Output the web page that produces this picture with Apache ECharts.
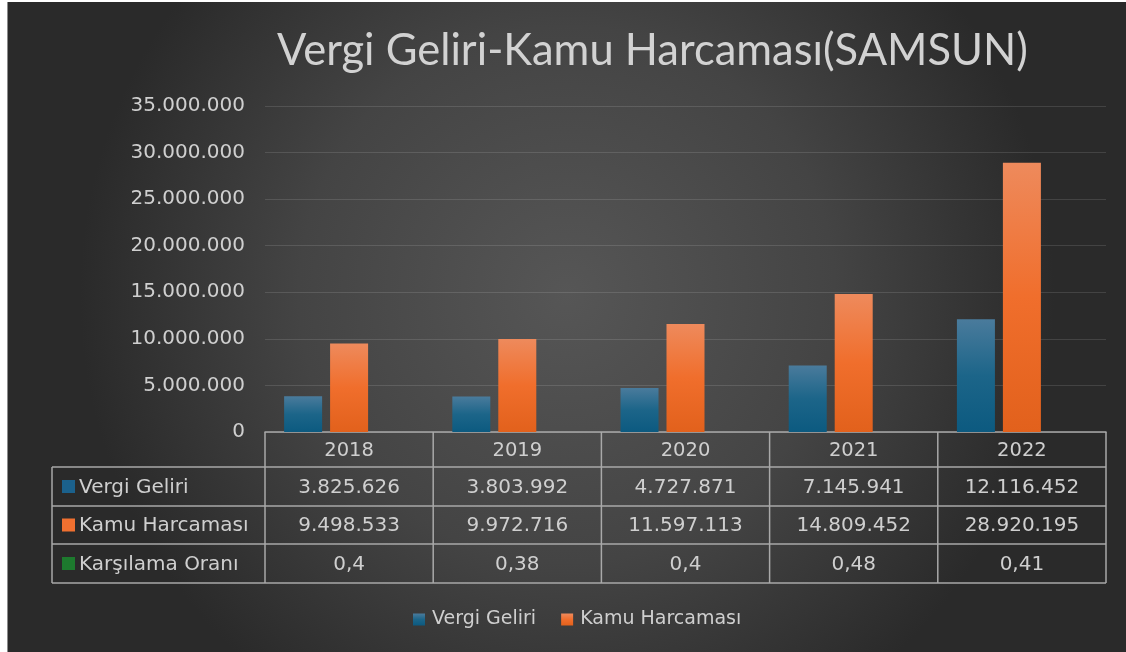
<!DOCTYPE html>
<html>
<head>
<meta charset="utf-8">
<script src="https://cdn.jsdelivr.net/npm/echarts@6/dist/echarts.min.js"></script>
<style>
  html, body { margin: 0; padding: 0; background: #ffffff; }
  #chart { position: absolute; left: 7px; top: 2px; width: 1119px; height: 650px; border-left: 1px solid #8c8c8c; box-sizing: border-box; }
</style>
</head>
<body>
<div id="chart"></div>
<script>
// Years shown on the category axis and in the header row of the data table
const years = ['2018', '2019', '2020', '2021', '2022'];
// Tax revenue and public spending for Samsun (TL)
const vergiGeliri = [3825626, 3803992, 4727871, 7145941, 12116452];
const kamuHarcamasi = [9498533, 9972716, 11597113, 14809452, 28920195];
// Ratio of revenue to spending
const karsilamaOrani = [0.4, 0.38, 0.4, 0.48, 0.41];
const seriesNames = ['Vergi Geliri', 'Kamu Harcaması', 'Karşılama Oranı'];

const TEXT = '#cfcfcf';
const LINE = '#a9a9a9';
const KEY_COLORS = ['#1b618c', '#f07030', '#1d7a2e'];

function fmtThousands(n) {
  return String(n).replace(/\B(?=(\d{3})+(?!\d))/g, '.');
}
function fmtRatio(v) {
  return String(v).replace('.', ',');
}

const chart = echarts.init(document.getElementById('chart'));

const GRID = { left: 257, right: 20, top: 104, bottom: 220 };

function barGradient(top, mid, bottom) {
  return new echarts.graphic.LinearGradient(0, 0, 0, 1, [
    { offset: 0, color: top },
    { offset: 0.5, color: mid },
    { offset: 1, color: bottom }
  ]);
}

const barShadow = { shadowColor: 'rgba(0,0,0,0.45)', shadowBlur: 6, shadowOffsetX: 2, shadowOffsetY: 0 };

chart.setOption({
  animation: false,
  backgroundColor: {
    type: 'radial', x: 0.5, y: 0.45, r: 0.75,
    colorStops: [
      { offset: 0, color: '#565656' },
      { offset: 0.55, color: '#444444' },
      { offset: 1, color: '#2a2a2a' }
    ]
  },
  title: {
    text: 'Vergi Geliri-Kamu Harcaması(SAMSUN)',
    left: 264,
    top: 22,
    textStyle: { color: '#d2d2d2', fontSize: 43.5, fontWeight: 'normal', fontFamily: 'Lato' }
  },
  legend: {
    data: ['Vergi Geliri', 'Kamu Harcaması'],
    left: 400,
    top: 603,
    itemWidth: 12,
    itemHeight: 12,
    itemGap: 25,
    icon: 'rect',
    textStyle: { color: TEXT, fontSize: 19, fontFamily: 'DejaVu Sans', padding: [0, 0, 0, 2] }
  },
  grid: GRID,
  xAxis: {
    type: 'category',
    data: years,
    axisLine: { lineStyle: { color: LINE, width: 1.5 } },
    axisTick: { show: false },
    axisLabel: { color: TEXT, fontSize: 19.5, fontFamily: 'DejaVu Sans', margin: 9 }
  },
  yAxis: {
    type: 'value',
    min: 0,
    max: 35000000,
    interval: 5000000,
    axisLine: { show: false },
    axisTick: { show: false },
    splitLine: { lineStyle: { color: 'rgba(255,255,255,0.12)', width: 1.2 } },
    axisLabel: {
      color: TEXT, fontSize: 20, fontFamily: 'DejaVu Sans', margin: 20,
      formatter: v => fmtThousands(v)
    }
  },
  series: [
    {
      name: seriesNames[0], type: 'bar', data: vergiGeliri,
      barWidth: 38, barGap: '21%',
      itemStyle: Object.assign({ color: barGradient('#4a7b9c', '#1c6589', '#0c5a80') }, barShadow)
    },
    {
      name: seriesNames[1], type: 'bar', data: kamuHarcamasi,
      barWidth: 38, barGap: '21%',
      itemStyle: Object.assign({ color: barGradient('#ee8a5c', '#f06e2c', '#e2611c') }, barShadow)
    },
    {
      name: seriesNames[2], type: 'bar', data: karsilamaOrani,
      barWidth: 38, barGap: '21%',
      itemStyle: { color: KEY_COLORS[2] }
    }
  ]
});

// Data table under the plot, aligned to the category bands of the x axis
function drawTable() {
  const x0 = chart.convertToPixel({ xAxisIndex: 0 }, 0);
  const x1 = chart.convertToPixel({ xAxisIndex: 0 }, 1);
  const band = x1 - x0;
  const colStart = x0 - band / 2;
  const axisY = chart.convertToPixel({ yAxisIndex: 0 }, 0);
  const tableLeft = 44;
  const rowEdges = [axisY + 35, axisY + 74, axisY + 112, axisY + 151];
  const tableBottom = rowEdges[3];
  const tableRight = colStart + band * years.length;

  const els = [];
  const line = (xa, ya, xb, yb) => els.push({
    type: 'line', silent: true,
    shape: { x1: xa, y1: ya, x2: xb, y2: yb },
    style: { stroke: LINE, lineWidth: 1.5 }
  });

  // horizontal rules
  rowEdges.forEach(y => line(tableLeft, y, tableRight, y));
  // vertical rules
  line(tableLeft, rowEdges[0], tableLeft, tableBottom);
  for (let i = 0; i <= years.length; i++) {
    const x = colStart + band * i;
    line(x, axisY, x, tableBottom);
  }

  const rows = [
    vergiGeliri.map(fmtThousands),
    kamuHarcamasi.map(fmtThousands),
    karsilamaOrani.map(fmtRatio)
  ];
  rows.forEach((cells, r) => {
    const cy = (rowEdges[r] + rowEdges[r + 1]) / 2;
    els.push({
      type: 'rect', silent: true,
      shape: { x: tableLeft + 10, y: cy - 6.5, width: 13, height: 13 },
      style: { fill: KEY_COLORS[r] }
    });
    els.push({
      type: 'text', silent: true,
      style: {
        text: seriesNames[r], x: tableLeft + 27, y: cy + 1,
        fill: TEXT, font: '20px "DejaVu Sans"', textAlign: 'left', textVerticalAlign: 'middle'
      }
    });
    cells.forEach((t, c) => {
      els.push({
        type: 'text', silent: true,
        style: {
          text: t, x: colStart + band * (c + 0.5), y: cy + 1,
          fill: TEXT, font: '20px "DejaVu Sans"', textAlign: 'center', textVerticalAlign: 'middle'
        }
      });
    });
  });

  chart.setOption({ graphic: { elements: els } });
}
drawTable();
</script>
</body>
</html>
